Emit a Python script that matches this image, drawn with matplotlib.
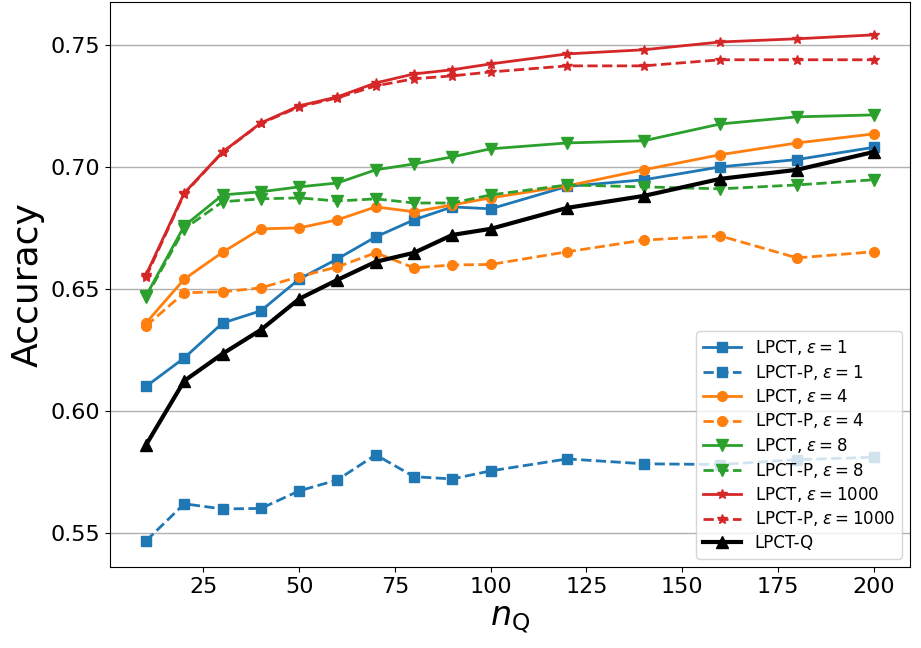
import numpy as np
import matplotlib
matplotlib.use('Agg')
import matplotlib.pyplot as plt

n_q = [10, 20, 30, 40, 50, 60, 70, 80, 90, 100, 120, 140, 160, 180, 200]

lpct_1 = [0.610, 0.6217, 0.636, 0.641, 0.654, 0.6623, 0.6713, 0.6783, 0.6836, 0.6828, 0.692, 0.6947, 0.700, 0.703, 0.708]
lpct_p_1 = [0.5467, 0.5619, 0.5598, 0.560, 0.5672, 0.5717, 0.582, 0.573, 0.5721, 0.5754, 0.5803, 0.5783, 0.578, 0.580, 0.581]
lpct_4 = [0.636, 0.654, 0.665, 0.6746, 0.675, 0.6783, 0.6836, 0.6816, 0.6844, 0.6873, 0.6922, 0.6988, 0.705, 0.7098, 0.7135]
lpct_p_4 = [0.6348, 0.6484, 0.6488, 0.6504, 0.655, 0.659, 0.6648, 0.6586, 0.6598, 0.660, 0.6652, 0.670, 0.6717, 0.6627, 0.6652]
lpct_8 = [0.6471, 0.6758, 0.6885, 0.6898, 0.6918, 0.6934, 0.6988, 0.7012, 0.7041, 0.7074, 0.7098, 0.7107, 0.7176, 0.7205, 0.7213]
lpct_p_8 = [0.6465, 0.6746, 0.6857, 0.6869, 0.6873, 0.686, 0.6869, 0.6852, 0.6852, 0.6885, 0.6926, 0.6918, 0.691, 0.6926, 0.6947]
lpct_1000 = [0.6557, 0.6893, 0.7061, 0.718, 0.725, 0.7287, 0.7344, 0.7381, 0.7398, 0.7422, 0.7463, 0.748, 0.7512, 0.7525, 0.7541]
lpct_p_1000 = [0.6549, 0.6890, 0.7060, 0.7178, 0.7246, 0.7283, 0.7332, 0.7361, 0.7373, 0.7389, 0.7414, 0.7414, 0.7439, 0.7439, 0.7439]
lpct_q = [0.586, 0.6123, 0.6234, 0.6332, 0.6459, 0.6537, 0.6611, 0.6648, 0.6721, 0.6746, 0.6832, 0.6881, 0.6951, 0.6988, 0.7061]

fig = plt.figure(figsize=(9.21, 6.48), dpi=100)
ax = fig.add_axes([0.119, 0.125, 0.869, 0.872])

ax.plot(n_q, lpct_1, '-', color='tab:blue', marker='s', lw=2, ms=7, label=r'LPCT, $\varepsilon=1$')
ax.plot(n_q, lpct_p_1, '--', color='tab:blue', marker='s', lw=2, ms=7, label=r'LPCT-P, $\varepsilon=1$')
ax.plot(n_q, lpct_4, '-', color='tab:orange', marker='o', lw=2, ms=7, label=r'LPCT, $\varepsilon=4$')
ax.plot(n_q, lpct_p_4, '--', color='tab:orange', marker='o', lw=2, ms=7, label=r'LPCT-P, $\varepsilon=4$')
ax.plot(n_q, lpct_8, '-', color='tab:green', marker='v', lw=2, ms=8, label=r'LPCT, $\varepsilon=8$')
ax.plot(n_q, lpct_p_8, '--', color='tab:green', marker='v', lw=2, ms=8, label=r'LPCT-P, $\varepsilon=8$')
ax.plot(n_q, lpct_1000, '-', color='tab:red', marker='*', lw=2, ms=7, label=r'LPCT, $\varepsilon=1000$')
ax.plot(n_q, lpct_p_1000, '--', color='tab:red', marker='*', lw=2, ms=7, label=r'LPCT-P, $\varepsilon=1000$')
ax.plot(n_q, lpct_q, '-', color='black', marker='^', lw=3, ms=8, label='LPCT-Q')

ax.set_xlim(0.5, 209.5)
ax.set_ylim(0.536, 0.7676)
ax.set_xticks([25, 50, 75, 100, 125, 150, 175, 200])
ax.set_yticks([0.55, 0.60, 0.65, 0.70, 0.75])
ax.grid(axis='y', color='#b0b0b0', lw=1)
ax.tick_params(labelsize=16)
ax.set_xlabel(r'$n_{\mathrm{Q}}$', fontsize=24)
ax.set_ylabel('Accuracy', fontsize=26)
ax.legend(loc='lower right', fontsize=12, handlelength=2.3, labelspacing=0.33)

fig.savefig('out.png', dpi=100)
